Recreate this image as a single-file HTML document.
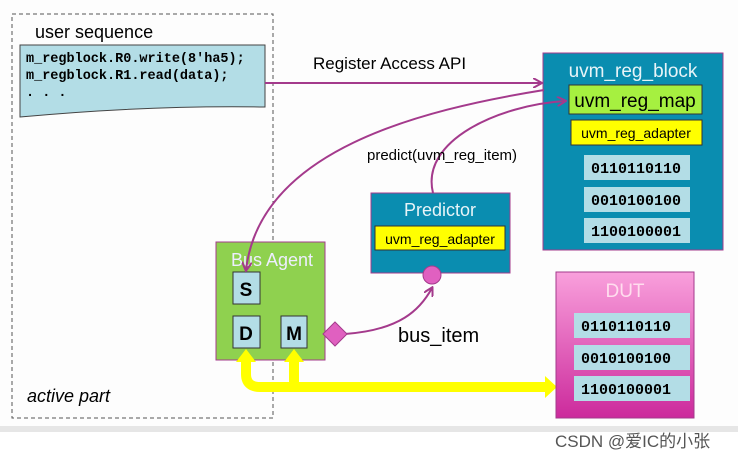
<!DOCTYPE html>
<html><head><meta charset="utf-8"><style>
body{margin:0;background:#fff;}
svg text{font-family:"Liberation Sans","Noto Sans CJK SC",sans-serif;}
.m{font-family:"Liberation Mono",monospace;font-weight:bold;}
</style></head><body>
<svg width="738" height="460" xmlns="http://www.w3.org/2000/svg">
<defs>
<linearGradient id="dut" x1="0" y1="0" x2="0" y2="1"><stop offset="0" stop-color="#f9a0dc"/><stop offset="1" stop-color="#cc2a9c"/></linearGradient>
<marker id="ah" markerWidth="10" markerHeight="10" refX="8" refY="5" orient="auto" markerUnits="userSpaceOnUse"><path d="M0,0 L9,5 L0,10" fill="none" stroke="#a43a8c" stroke-width="2"/></marker>
</defs>
<rect width="738" height="428" fill="#fdfdfd"/>
<rect x="0" y="426" width="738" height="6" fill="#e6e6e6"/>
<rect x="12" y="14" width="261" height="404" fill="none" stroke="#555" stroke-dasharray="4,3"/>
<text x="35" y="38" font-size="18">user sequence</text>
<path d="M20,45 H265 V107 Q150,105 20,117 Z" fill="#b3dde6" stroke="#444"/>
<text class="m" x="26" y="62" font-size="13.5">m_regblock.R0.write(8'ha5);</text>
<text class="m" x="26" y="79" font-size="13.5">m_regblock.R1.read(data);</text>
<text class="m" x="26" y="96" font-size="13.5">.  .  .</text>
<text x="27" y="402" font-size="18" font-style="italic">active part</text>
<path d="M265,83 H541" stroke="#a43a8c" stroke-width="2" fill="none" marker-end="url(#ah)"/>
<text x="313" y="69" font-size="17">Register Access API</text>
<rect x="543" y="53" width="180" height="197" fill="#0a8db0" stroke="#a43a8c"/>
<text x="633" y="77" font-size="19" fill="#e8f4f8" text-anchor="middle">uvm_reg_block</text>
<rect x="569" y="85" width="133" height="29" fill="#a6f040" stroke="#333"/>
<text x="635" y="107" font-size="19" text-anchor="middle">uvm_reg_map</text>
<rect x="571" y="120" width="131" height="25" fill="#ffff00" stroke="#333"/>
<text x="636" y="138" font-size="14" text-anchor="middle">uvm_reg_adapter</text>
<rect x="584" y="155" width="106" height="25" fill="#b3dde6"/><text x="591" y="173" font-size="15" class="m">0110110110</text>
<rect x="584" y="187" width="106" height="25" fill="#b3dde6"/><text x="591" y="205" font-size="15" class="m">0010100100</text>
<rect x="584" y="218" width="106" height="25" fill="#b3dde6"/><text x="591" y="236" font-size="15" class="m">1100100001</text>
<path d="M433,193 C420,140 500,105 565,101" stroke="#a43a8c" stroke-width="2" fill="none" marker-end="url(#ah)"/>
<text x="367" y="160" font-size="15">predict(uvm_reg_item)</text>
<rect x="371" y="193" width="139" height="80" fill="#0a8db0" stroke="#a43a8c"/>
<text x="440" y="216" font-size="18" fill="#e8f4f8" text-anchor="middle">Predictor</text>
<rect x="375" y="226" width="130" height="24" fill="#ffff00" stroke="#333"/>
<text x="440" y="244" font-size="14" text-anchor="middle">uvm_reg_adapter</text>
<path d="M345,334 C400,330 420,310 432,288" stroke="#a43a8c" stroke-width="2" fill="none" marker-end="url(#ah)"/>
<circle cx="432" cy="275" r="9" fill="#e060c0" stroke="#a43a8c"/>
<rect x="216" y="242" width="109" height="118" fill="#8fd14f" stroke="#a43a8c"/>
<text x="272" y="266" font-size="18" fill="#eef" text-anchor="middle">Bus Agent</text>
<rect x="233" y="272" width="27" height="32" fill="#b3dde6" stroke="#333"/><text x="246" y="296" font-size="19" font-weight="bold" text-anchor="middle">S</text>
<rect x="233" y="316" width="27" height="32" fill="#b3dde6" stroke="#333"/><text x="246" y="340" font-size="19" font-weight="bold" text-anchor="middle">D</text>
<rect x="281" y="316" width="26" height="32" fill="#b3dde6" stroke="#333"/><text x="294" y="340" font-size="19" font-weight="bold" text-anchor="middle">M</text>
<path d="M544,90 C420,110 260,150 246,270" stroke="#a43a8c" stroke-width="2" fill="none" marker-end="url(#ah)"/>
<path d="M335,322 L347,334 L335,346 L323,334 Z" fill="#e060c0" stroke="#a43a8c"/>
<text x="398" y="342" font-size="20">bus_item</text>
<path d="M246,360 V374 Q246,387 260,387 H548" stroke="#ffff00" stroke-width="10" fill="none"/>
<path d="M294,360 V387" stroke="#ffff00" stroke-width="10" fill="none"/>
<path d="M236,362 L246,349 L256,362 Z M284,362 L294,349 L304,362 Z M545,376 L557,387 L545,398 Z" fill="#ffff00"/>
<rect x="556" y="272" width="138" height="146" fill="url(#dut)" stroke="#a43a8c"/>
<text x="625" y="297" font-size="19" fill="#fde" text-anchor="middle">DUT</text>
<rect x="574" y="313" width="116" height="25" fill="#b3dde6"/><text x="581" y="331" font-size="15" class="m">0110110110</text>
<rect x="574" y="345" width="116" height="25" fill="#b3dde6"/><text x="581" y="363" font-size="15" class="m">0010100100</text>
<rect x="574" y="376" width="116" height="25" fill="#b3dde6"/><text x="581" y="394" font-size="15" class="m">1100100001</text>
<text x="555" y="447" font-size="17" fill="#555">CSDN @爱IC的小张</text>
</svg>
</body></html>
